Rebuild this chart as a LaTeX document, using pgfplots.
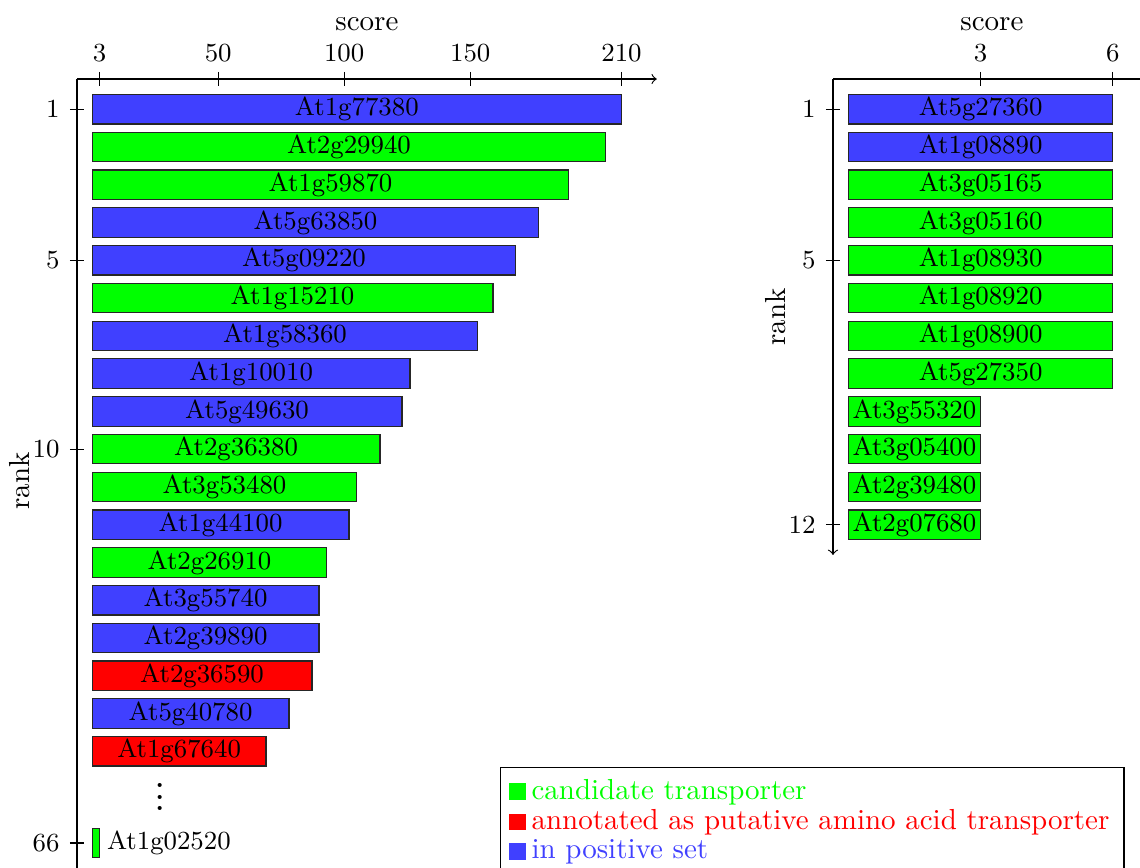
\documentclass[border=0pt]{standalone}
\usepackage{pgfplots}
\pgfplotsset{compat=1.18}
\usepackage{pgfplotstable}
\definecolor{myblue}{RGB}{64,64,255}
\definecolor{mygreen}{RGB}{0,255,0}
\definecolor{myred}{RGB}{255,0,0}

% left chart
\pgfplotstableread{
y x
1 210
4 177.2
5 168.1
7 153
8 126.1
9 122.9
12 101.9
14 90
15 90
17 78.1
}\Lblue
\pgfplotstableread{
y x
2 203.8
3 189.1
6 159
10 114.2
11 105
13 93.1
20.43 3
}\Lgreen
\pgfplotstableread{
y x
16 87.2
18 69
}\Lred
\pgfplotstableread{
y x label
1 210 At1g77380
2 203.8 At2g29940
3 189.1 At1g59870
4 177.2 At5g63850
5 168.1 At5g09220
6 159 At1g15210
7 153 At1g58360
8 126.1 At1g10010
9 122.9 At5g49630
10 114.2 At2g36380
11 105 At3g53480
12 101.9 At1g44100
13 93.1 At2g26910
14 90 At3g55740
15 90 At2g39890
16 87.2 At2g36590
17 78.1 At5g40780
18 69 At1g67640
}\Llabels
\pgfplotstableread{
y x label
20.43 3 At1g02520
}\Llast

% right chart
\pgfplotstableread{
y x
1 6
2 6
}\Rblue
\pgfplotstableread{
y x
3 6
4 6
5 6
6 6
7 6
8 6
9 3
10 3
11 3
12 3
}\Rgreen
\pgfplotstableread{
y x label
1 6 At5g27360
2 6 At1g08890
3 6 At3g05165
4 6 At3g05160
5 6 At1g08930
6 6 At1g08920
7 6 At1g08900
8 6 At5g27350
9 3 At3g55320
10 3 At3g05400
11 3 At2g39480
12 3 At2g07680
}\Rlabels

\pgfplotsset{
  mystyle/.style={
    scale only axis,
    y dir=reverse,
    axis x line=top,
    axis y line=left,
    every outer x axis line/.append style={-to},
    every outer y axis line/.append style={-to},
    every inner x axis line/.append style={-to},
    every inner y axis line/.append style={-to},
    axis line style={line width=0.4pt, black},
    tick style={line width=0.4pt, black},
    tick align=center,
    major tick length=5pt,
    tick label style={font=\small},
    xlabel={score},
    ylabel={rank},
    xlabel shift=-2pt,
    ylabel shift=-6pt,
    clip=false,
  },
  barsty/.style={xbar, bar width=0.78, bar shift=0pt, draw=black!85, line width=0.4pt, forget plot},
  labsty/.style={draw=none, mark=none, forget plot, nodes near coords,
    point meta=explicit symbolic,
    nodes near coords style={anchor=center, font=\small, text=black}},
}

\begin{document}
\begin{tikzpicture}
\begin{axis}[mystyle,
  at={(0pt,0pt)}, anchor=north west,
  width=200.03pt, height=277.4pt,
  xmin=-6, xmax=224, ymin=0.2, ymax=21.49,
  xtick={3,50,100,150,210},
  ytick={1,5,10,20.43}, yticklabels={1,5,10,66},
  legend style={at={(axis cs:161.8,18.42)}, anchor=north west, draw=black,
    cells={anchor=west}, font=\normalsize, row sep=-2pt},
  legend image code/.code={\fill[#1, draw=none] (0cm,-0.1cm) rectangle (0.2cm,0.1cm);},
]
\addplot[barsty, fill=myblue] table[x=x,y=y]{\Lblue};
\addplot[barsty, fill=mygreen] table[x=x,y=y]{\Lgreen};
\addplot[barsty, fill=myred] table[x=x,y=y]{\Lred};
\addplot[labsty] table[x expr=\thisrow{x}/2, y=y, meta=label]{\Llabels};
\addplot[labsty, nodes near coords style={anchor=west, xshift=-1pt}] table[x=x, y=y, meta=label]{\Llast};
\node[anchor=base, font=\Large] at (axis cs:27,19.58) {$\vdots$};
\addlegendimage{fill=mygreen}
\addlegendentry{\textcolor{mygreen}{candidate transporter}}
\addlegendimage{fill=myred}
\addlegendentry{\textcolor{myred}{annotated as putative amino acid transporter}}
\addlegendimage{fill=myblue}
\addlegendentry{\textcolor{myblue}{in positive set}}
\end{axis}

\begin{axis}[mystyle,
  at={(260.82pt,0pt)}, anchor=north west,
  width=109.65pt, height=164.2pt,
  xmin=-0.347, xmax=6.86, ymin=0.2, ymax=12.8,
  xtick={3,6},
  ytick={1,5,12},
]
\addplot[barsty, fill=myblue] table[x=x,y=y]{\Rblue};
\addplot[barsty, fill=mygreen] table[x=x,y=y]{\Rgreen};
\addplot[labsty] table[x expr=\thisrow{x}/2, y=y, meta=label]{\Rlabels};
\end{axis}
\pgfresetboundingbox
\useasboundingbox (-26.565pt,27.255pt) rectangle (366.735pt,-272.205pt);
\end{tikzpicture}
\end{document}
